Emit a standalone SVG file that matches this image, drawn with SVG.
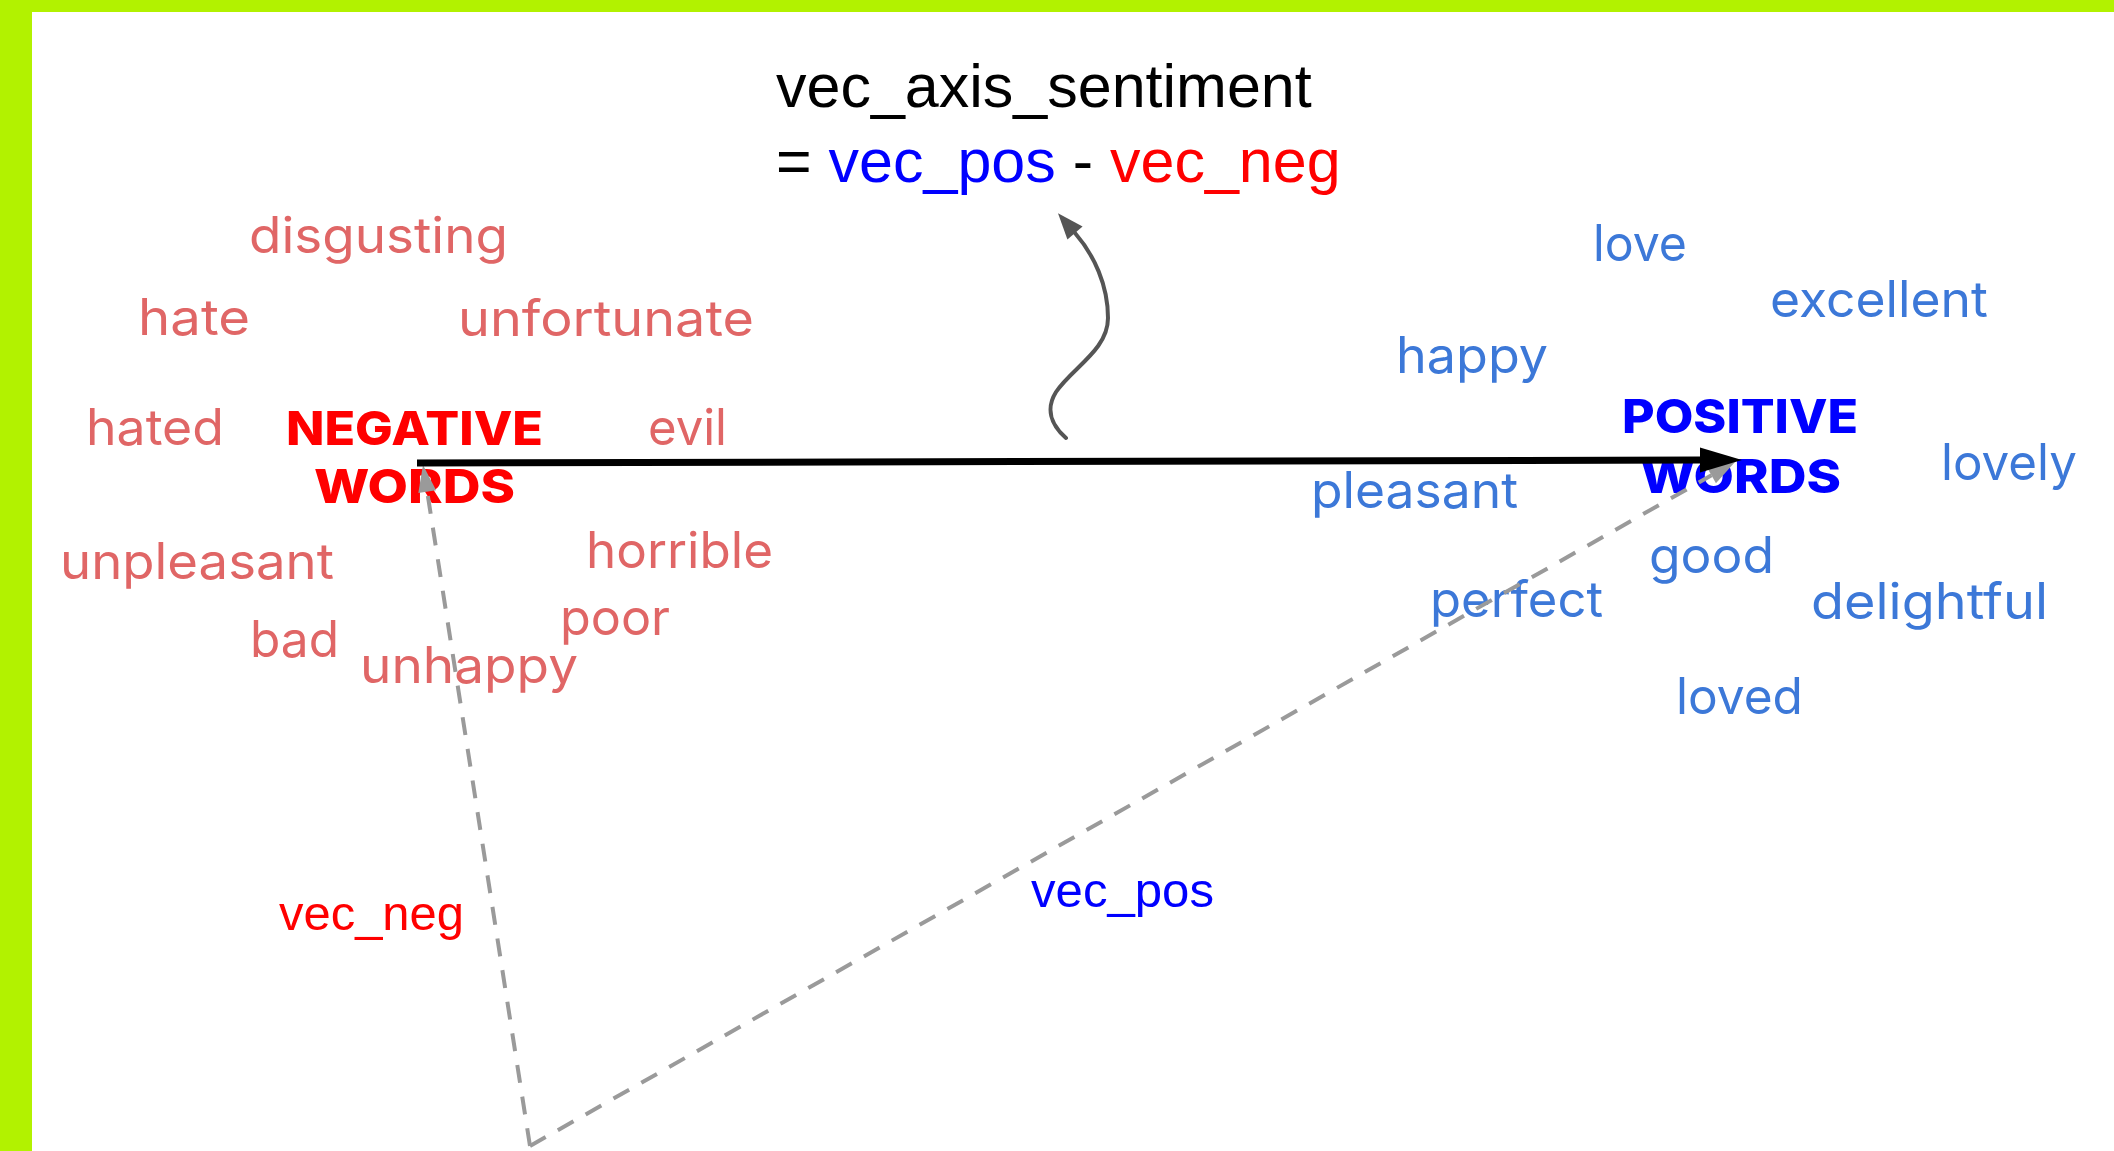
<svg xmlns="http://www.w3.org/2000/svg" width="2114" height="1151" viewBox="0 0 2114 1151">
<style>
.w{font-family:Inter,"Noto Sans",sans-serif;font-size:50px;font-weight:400}
.neg{fill:#e06666}
.pos{fill:#3c78d8}
.big{font-family:Inter,"Noto Sans",sans-serif;font-size:47px;font-weight:800}
.eq{font-family:"Liberation Sans",Arial,sans-serif;font-size:61px}
.lab{font-family:"Liberation Sans",Arial,sans-serif;font-size:49px}
.dash{fill:none;stroke:#9a9a9a;stroke-width:4;stroke-dasharray:18 14}
</style>
<defs>
<marker id="ahBlack" markerUnits="userSpaceOnUse" markerWidth="42" markerHeight="25" refX="0" refY="12.5" orient="auto" overflow="visible">
<path d="M0,0 L42,12.5 L0,25 z" fill="#000"/>
</marker>
<marker id="ahGray" markerUnits="userSpaceOnUse" markerWidth="27" markerHeight="18" refX="0" refY="9" orient="auto" overflow="visible">
<path d="M0,0 L27,9 L0,18 z" fill="#9a9a9a"/>
</marker>
<marker id="ahDark" markerUnits="userSpaceOnUse" markerWidth="26" markerHeight="20" refX="0" refY="10" orient="auto" overflow="visible">
<path d="M0,0 L26,10 L0,20 z" fill="#555"/>
</marker>
</defs>
<rect x="0" y="0" width="2114" height="1151" fill="#ffffff"/>
<g id="border" fill="#b2f200">
<rect x="0" y="0" width="2114" height="12"/>
<rect x="0" y="0" width="32" height="1151"/>
</g>
<g id="formula">
<text class="eq" x="776" y="107" fill="#000">vec_axis_sentiment</text>
<text class="eq" x="776" y="182"><tspan fill="#000">= </tspan><tspan fill="#0000ff">vec_pos</tspan><tspan fill="#000"> - </tspan><tspan fill="#ff0000">vec_neg</tspan></text>
</g>
<g id="negative-words" class="w neg">
<text x="249" y="253" textLength="259" lengthAdjust="spacingAndGlyphs">disgusting</text>
<text x="138" y="335" textLength="112" lengthAdjust="spacingAndGlyphs">hate</text>
<text x="458" y="336" textLength="296" lengthAdjust="spacingAndGlyphs">unfortunate</text>
<text x="86" y="445" textLength="138" lengthAdjust="spacingAndGlyphs">hated</text>
<text x="648" y="445" textLength="79" lengthAdjust="spacingAndGlyphs">evil</text>
<text x="60" y="579" textLength="274" lengthAdjust="spacingAndGlyphs">unpleasant</text>
<text x="586" y="568" textLength="187" lengthAdjust="spacingAndGlyphs">horrible</text>
<text x="250" y="657" textLength="89" lengthAdjust="spacingAndGlyphs">bad</text>
<text x="560" y="635" textLength="110" lengthAdjust="spacingAndGlyphs">poor</text>
<text x="360" y="683" textLength="218" lengthAdjust="spacingAndGlyphs">unhappy</text>
</g>
<g id="negative-label" class="big" fill="#ff0000">
<text x="286" y="445" textLength="257" lengthAdjust="spacingAndGlyphs">NEGATIVE</text>
<text x="314" y="503" textLength="201" lengthAdjust="spacingAndGlyphs">WORDS</text>
</g>
<g id="positive-words" class="w pos">
<text x="1593" y="261" textLength="94" lengthAdjust="spacingAndGlyphs">love</text>
<text x="1770" y="317" textLength="218" lengthAdjust="spacingAndGlyphs">excellent</text>
<text x="1396" y="373" textLength="152" lengthAdjust="spacingAndGlyphs">happy</text>
<text x="1941" y="480" textLength="136" lengthAdjust="spacingAndGlyphs">lovely</text>
<text x="1311" y="508" textLength="207" lengthAdjust="spacingAndGlyphs">pleasant</text>
<text x="1649" y="573" textLength="125" lengthAdjust="spacingAndGlyphs">good</text>
<text x="1430" y="617" textLength="173" lengthAdjust="spacingAndGlyphs">perfect</text>
<text x="1811" y="619" textLength="237" lengthAdjust="spacingAndGlyphs">delightful</text>
<text x="1676" y="714" textLength="127" lengthAdjust="spacingAndGlyphs">loved</text>
</g>
<g id="positive-label" class="big" fill="#0000ff">
<text x="1622" y="433" textLength="236" lengthAdjust="spacingAndGlyphs">POSITIVE</text>
<text x="1640" y="493" textLength="201" lengthAdjust="spacingAndGlyphs">WORDS</text>
</g>
<g id="vector-labels" class="lab">
<text x="279" y="930" fill="#ff0000" textLength="185" lengthAdjust="spacingAndGlyphs">vec_neg</text>
<text x="1031" y="907" fill="#0000ff" textLength="183" lengthAdjust="spacingAndGlyphs">vec_pos</text>
</g>
<g id="connectors">
<path class="dash" d="M530,1146 L427.2,491.7" marker-end="url(#ahGray)"/>
<path class="dash" d="M530,1146 L1711.5,475.3" marker-end="url(#ahGray)"/>
<path d="M417,463 L1700,460" fill="none" stroke="#000" stroke-width="7" marker-end="url(#ahBlack)"/>
<path d="M1066,438 C1050,424 1046,408 1056,392 C1072,368 1108,350 1108,318 C1108,285 1094,255 1075,233" fill="none" stroke="#555" stroke-width="4" stroke-linecap="round" marker-end="url(#ahDark)"/>
</g>
</svg>
